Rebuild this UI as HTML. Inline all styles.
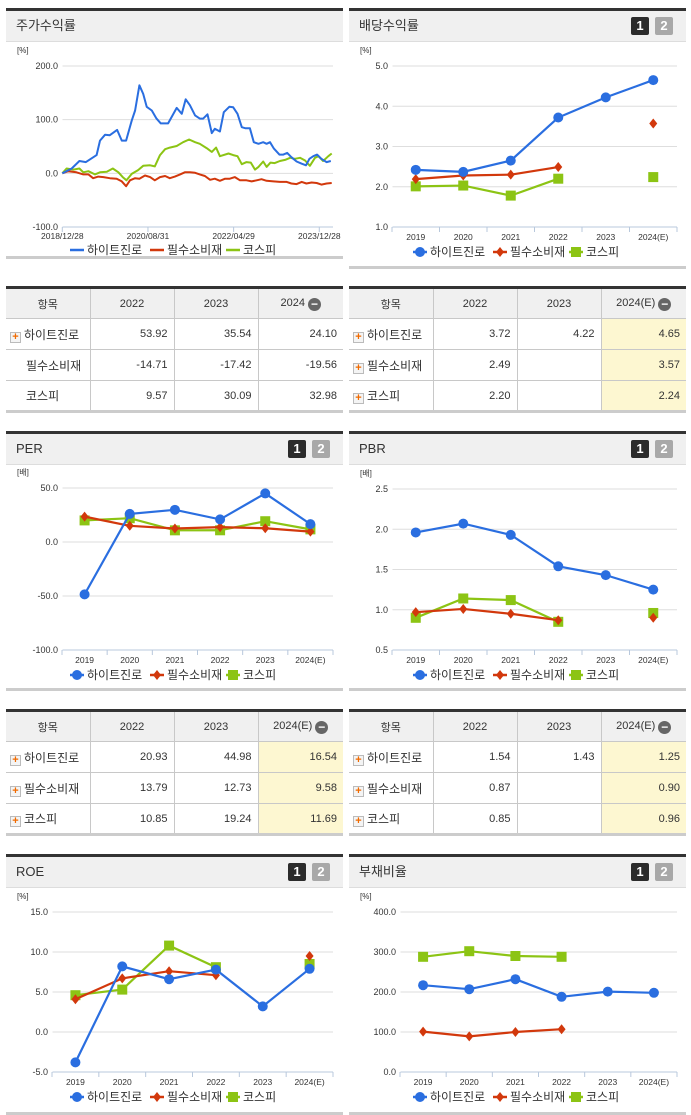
<!DOCTYPE html>
<html><head><meta charset="utf-8">
<style>
*{margin:0;padding:0;box-sizing:border-box}
body{width:691px;height:1115px;background:#fff;position:relative;overflow:hidden;font-family:"Liberation Sans","Noto Sans CJK KR",sans-serif;color:#333}
.panel{position:absolute;border-top:3px solid #333;border-bottom:3px solid #ccc}
.hdr{height:31px;background:#f0f0f0;border-bottom:1px solid #ddd;font-size:13px;line-height:30px;padding-left:10px;position:relative}
.b1,.b2{position:absolute;top:6px;width:18px;height:18px;font-size:13px;font-weight:bold;line-height:18px;text-align:center;color:#fff;border-radius:2px}
.b1{background:#2b2b2b}.b2{background:#a8a8a8}
table{position:absolute;border-collapse:collapse;border-top:3px solid #333;border-bottom:3px solid #ccc;font-size:11px;table-layout:fixed}
td,th{border:1px solid #c8c8c8;height:31px;font-weight:normal}
th{background:#f0f0f0;font-size:11px;text-align:center}
td{text-align:right;padding-right:6px}
td.l{text-align:left;padding-left:4px;font-size:12px}
tr td:first-child,tr th:first-child{border-left:none}
tr td:last-child,tr th:last-child{border-right:none}
.hl{background:#fdf7d1}
.pl{display:inline-block;width:11px;height:11px;border:1px solid #bbb;background:#f4f4f4;color:#f06a00;font-size:11px;line-height:9px;text-align:center;font-weight:bold;vertical-align:-1px;margin-right:3px}
.mi{display:inline-block;width:13px;height:13px;border-radius:50%;background:#666;color:#fff;font-size:12px;line-height:12px;text-align:center;font-weight:bold;vertical-align:-2px;margin-left:3px}
svg{position:absolute;left:0;top:0}
</style></head><body>

<div class="panel" style="left:6px;top:8px;width:337px;height:251px"><div class="hdr">주가수익률</div></div>
<div class="panel" style="left:349px;top:8px;width:337px;height:261px"><div class="hdr">배당수익률<span class="b1" style="left:282px">1</span><span class="b2" style="left:306px">2</span></div></div>
<div class="panel" style="left:6px;top:431px;width:337px;height:260px"><div class="hdr">PER<span class="b1" style="left:282px">1</span><span class="b2" style="left:306px">2</span></div></div>
<div class="panel" style="left:349px;top:431px;width:337px;height:260px"><div class="hdr">PBR<span class="b1" style="left:282px">1</span><span class="b2" style="left:306px">2</span></div></div>
<div class="panel" style="left:6px;top:854px;width:337px;height:261px"><div class="hdr">ROE<span class="b1" style="left:282px">1</span><span class="b2" style="left:306px">2</span></div></div>
<div class="panel" style="left:349px;top:854px;width:337px;height:261px"><div class="hdr">부채비율<span class="b1" style="left:282px">1</span><span class="b2" style="left:306px">2</span></div></div>

<table style="left:6px;top:286px;width:337px">
<colgroup><col style="width:84px"><col style="width:84px"><col style="width:84px"><col style="width:85px"></colgroup>
<tr><th>항목</th><th>2022</th><th>2023</th><th>2024<span class="mi">−</span></th></tr>
<tr><td class="l"><span class="pl">+</span>하이트진로</td><td>53.92</td><td>35.54</td><td>24.10</td></tr>
<tr><td class="l" style="padding-left:20px">필수소비재</td><td>-14.71</td><td>-17.42</td><td>-19.56</td></tr>
<tr><td class="l" style="padding-left:20px">코스피</td><td>9.57</td><td>30.09</td><td>32.98</td></tr>
</table>
<table style="left:349px;top:286px;width:337px">
<colgroup><col style="width:84px"><col style="width:84px"><col style="width:84px"><col style="width:85px"></colgroup>
<tr><th>항목</th><th>2022</th><th>2023</th><th>2024(E)<span class="mi">−</span></th></tr>
<tr><td class="l"><span class="pl">+</span>하이트진로</td><td>3.72</td><td>4.22</td><td class="hl">4.65</td></tr>
<tr><td class="l"><span class="pl">+</span>필수소비재</td><td>2.49</td><td></td><td class="hl">3.57</td></tr>
<tr><td class="l"><span class="pl">+</span>코스피</td><td>2.20</td><td></td><td class="hl">2.24</td></tr>
</table>
<table style="left:6px;top:709px;width:337px">
<colgroup><col style="width:84px"><col style="width:84px"><col style="width:84px"><col style="width:85px"></colgroup>
<tr><th>항목</th><th>2022</th><th>2023</th><th>2024(E)<span class="mi">−</span></th></tr>
<tr><td class="l"><span class="pl">+</span>하이트진로</td><td>20.93</td><td>44.98</td><td class="hl">16.54</td></tr>
<tr><td class="l"><span class="pl">+</span>필수소비재</td><td>13.79</td><td>12.73</td><td class="hl">9.58</td></tr>
<tr><td class="l"><span class="pl">+</span>코스피</td><td>10.85</td><td>19.24</td><td class="hl">11.69</td></tr>
</table>
<table style="left:349px;top:709px;width:337px">
<colgroup><col style="width:84px"><col style="width:84px"><col style="width:84px"><col style="width:85px"></colgroup>
<tr><th>항목</th><th>2022</th><th>2023</th><th>2024(E)<span class="mi">−</span></th></tr>
<tr><td class="l"><span class="pl">+</span>하이트진로</td><td>1.54</td><td>1.43</td><td class="hl">1.25</td></tr>
<tr><td class="l"><span class="pl">+</span>필수소비재</td><td>0.87</td><td></td><td class="hl">0.90</td></tr>
<tr><td class="l"><span class="pl">+</span>코스피</td><td>0.85</td><td></td><td class="hl">0.96</td></tr>
</table>

<svg id="charts" width="691" height="1115"></svg>

<script>
// ---- data ----
const years = ["2019","2020","2021","2022","2023","2024(E)"];
const seriesNames = ["하이트진로","필수소비재","코스피"];
const divHite = [2.42,2.37,2.65,3.72,4.22,4.65];
const divStaples = [2.19,2.28,2.30,2.49,null,3.57];
const divKospi = [2.01,2.03,1.78,2.20,null,2.24];
const perHite = [-48.5,26.0,29.8,20.93,44.98,16.54];
const perStaples = [23.5,15.0,12.5,13.79,12.73,9.58];
const perKospi = [20.0,22.0,10.8,10.85,19.24,11.69];
const pbrHite = [1.96,2.07,1.93,1.54,1.43,1.25];
const pbrStaples = [0.97,1.01,0.95,0.87,null,0.90];
const pbrKospi = [0.90,1.14,1.12,0.85,null,0.96];
const roeHite = [-3.8,8.2,6.6,7.8,3.2,7.9];
const roeStaples = [4.1,6.7,7.6,7.1,null,9.5];
const roeKospi = [4.6,5.3,10.8,8.1,null,8.5];
const debtHite = [217,207,232,188,201,198];
const debtStaples = [101,89,100,107,null,null];
const debtKospi = [288,302,290,288,null,null];
// stock return: months since 2018/12/28 and % values
const retDateLabels = ["2018/12/28","2020/08/31","2022/04/29","2023/12/28"];
const retDateMonths = [0,20,40,60];
const hiteM = [0,2.2,4.0,5.5,8.0,8.8,10.0,11.1,12.8,13.9,14.9,16.2,17.0,18.0,18.9,19.7,20.9,22.0,23.0,24.7,26.7,27.9,28.8,29.8,31.0,32.1,32.9,33.9,34.9,35.6,36.8,37.7,39.0,39.9,40.9,41.9,42.8,43.8,44.7,45.8,46.9,47.7,48.5,49.4,50.7,51.6,52.5,53.5,54.7,55.9,56.9,57.7,58.6,59.5,60.5,61.7,62.7];
const hiteV = [0,9,23,21,34,61,72,71,81,61,61,98,117,164,148,124,117,102,93,93,122,111,138,127,108,102,102,110,75,83,78,114,124,123,111,86,84,84,58,55,58,55,58,46,35,35,38,30,22,18,15,27,32,35,27,21,23];
const kospiM = [0,1.0,2.6,4.0,4.9,6.1,7.6,8.8,10.4,11.8,13.1,14.1,15.0,16.2,17.7,18.9,20.5,21.6,22.8,24.0,25.1,26.7,28.2,29.6,31.0,32.1,33.7,34.9,35.9,36.8,38.8,39.9,40.9,41.9,43.0,44.0,45.0,45.8,46.9,47.7,48.6,49.6,50.8,52.0,53.2,54.3,55.5,56.7,57.8,59.0,59.8,60.9,62.1,62.9];
const kospiV = [0,9,7,9,2,4,-2,2,3,9,2,-7,-13,-1,6,14,15,13,34,45,48,51,58,63,58,55,47,40,48,32,37,34,32,17,21,20,7,12,22,12,20,19,23,25,29,27,29,24,14,29,32,23,32,37];
const stapM = [0,1.4,3.3,4.9,6.1,7.2,8.4,9.6,11.1,12.7,13.9,14.9,15.8,17.0,18.0,19.3,20.5,21.6,22.8,24.0,25.1,26.3,27.5,28.6,29.8,31.0,32.1,33.3,34.5,35.6,36.8,38.0,39.1,40.3,41.5,43.0,44.2,45.4,46.5,47.7,49.3,50.8,52.4,53.5,54.7,55.9,57.0,58.2,59.4,60.5,61.7,62.9];
const stapV = [0,4,2,-2,-2,-9,-6,-7,-9,-10,-15,-24,-13,-9,-10,-4,-7,-13,-7,-5,-9,-6,-2,2,2,1,-2,-5,-12,-10,-14,-10,-10,-7,-13,-13,-15,-13,-11,-14,-15,-16,-16,-19,-20,-16,-19,-17,-18,-21,-19,-18];

const COL = ["#2a6ee0","#d2380c","#8cc414"];
const svg = document.getElementById('charts');
const NS = "http://www.w3.org/2000/svg";
function mk(tag, attrs, parent){const e=document.createElementNS(NS,tag);for(const k in attrs)e.setAttribute(k,attrs[k]);(parent||svg).appendChild(e);return e;}
function txt(s,x,y,size,anchor,fill,parent){const t=mk('text',{x:x,y:y,'font-size':size,'text-anchor':anchor||'start',fill:fill||'#333','font-family':'"Liberation Sans","Noto Sans CJK KR",sans-serif'},parent);t.textContent=s;return t;}

function axes(g,c){
  const ys=v=>c.yTop+(c.max-v)/(c.max-c.min)*(c.yBot-c.yTop);
  for(let v=c.max;v>=c.min-1e-9;v-=c.step){
    const y=ys(v);
    if(v>c.min+1e-9){const gl=mk('line',{x1:c.left,x2:c.right,y1:y,y2:y,stroke:'#dedede'},g);}
    const t=txt(v.toFixed(1),c.left-4,y+3,9,'end','#333',g);
    
    
  }
  mk('line',{x1:c.left,x2:c.right,y1:c.yBot,y2:c.yBot,stroke:'#b8c8dc'},g);
  mk('line',{x1:c.left,x2:c.left,y1:c.yTop-2,y2:c.yBot,stroke:'#fff'},g);
  const u=txt(c.unit,c.unitX,c.yTop-13,8,'start','#333',g);
  
  
  return ys;
}
function legend(g,cx,y,markers){
  const widths=[80,76,52];let total=widths.reduce((a,b)=>a+b,0);let x=cx-total/2;
  seriesNames.forEach((n,i)=>{
    const lg=mk('g',{},g);
    
    
    mk('line',{x1:x,x2:x+14,y1:y-4,y2:y-4,stroke:COL[i],'stroke-width':2.5},lg);
    if(markers)marker(lg,i,x+7,y-4);
    txt(n,x+17,y,12,'start','#333',lg);
    x+=widths[i];
  });
}
function marker(g,i,x,y){
  if(i===0)return mk('circle',{cx:x,cy:y,r:5,fill:COL[0]},g);
  if(i===1)return mk('path',{d:`M${x} ${y-5}L${x+4} ${y}L${x} ${y+5}L${x-4} ${y}Z`,fill:COL[1]},g);
  return mk('rect',{x:x-5,y:y-5,width:10,height:10,fill:COL[2]},g);
}
function catChart(name,c,data){
  const g=mk('g',{});
  
  
  const ys=axes(g,c);
  const bw=(c.right-c.left)/years.length;
  const xs=i=>c.left+bw*(i+0.5);
  years.forEach((yr,i)=>{
    mk('line',{x1:c.left+bw*i,x2:c.left+bw*i,y1:c.yBot,y2:c.yBot+5,stroke:'#b8c8dc'},g);
    const t=txt(yr,xs(i),c.yBot+13,8.5,'middle','#333',g);
    
    
  });
  mk('line',{x1:c.right,x2:c.right,y1:c.yBot,y2:c.yBot+5,stroke:'#b8c8dc'},g);
  [2,1,0].forEach(si=>{
    const arr=data[si];let d='';let pen=false;
    arr.forEach((v,i)=>{if(v==null){pen=false;return;}d+=(pen?'L':'M')+xs(i)+' '+ys(v);pen=true;});
    const p=mk('path',{d:d,fill:'none',stroke:COL[si],'stroke-width':2.2},g);
    
    
    arr.forEach((v,i)=>{if(v==null)return;const m=marker(g,si,xs(i),ys(v));
      
      });
  });
  legend(g,c.cx,c.yBot+29,true);
}

// stock return chart
(function(){
  const c={left:62,right:333,yTop:66,yBot:227,max:200,min:-100,step:100,unit:'[%]',unitX:17};
  const g=mk('g',{});
  
  
  const ys=axes(g,c);
  const xm=m=>62.3+m*4.283;
  retDateMonths.forEach((m,i)=>{
    mk('line',{x1:xm(m),x2:xm(m),y1:c.yBot,y2:c.yBot+5,stroke:'#b8c8dc'},g);
    const t=txt(retDateLabels[i],xm(m),c.yBot+12,8.5,'middle','#333',g);
    
    
  });
  [[stapM,stapV,1],[kospiM,kospiV,2],[hiteM,hiteV,0]].forEach(([M,V,si])=>{
    const d=M.map((m,i)=>(i?'L':'M')+xm(m).toFixed(1)+' '+ys(V[i]).toFixed(1)).join('');
    const p=mk('path',{d:d,fill:'none',stroke:COL[si],'stroke-width':2,'stroke-linejoin':'round'},g);
    
    
  });
  legend(g,174,254,false);
})();

catChart('dividend-chart',{left:392,right:677,yTop:66,yBot:227,max:5,min:1,step:1,unit:'[%]',unitX:360,cx:517},[divHite,divStaples,divKospi]);
catChart('per-chart',{left:62,right:333,yTop:488,yBot:650,max:50,min:-100,step:50,unit:'[배]',unitX:17,cx:174},[perHite,perStaples,perKospi]);
catChart('pbr-chart',{left:392,right:677,yTop:489,yBot:650,max:2.5,min:0.5,step:0.5,unit:'[배]',unitX:360,cx:517},[pbrHite,pbrStaples,pbrKospi]);
catChart('roe-chart',{left:52,right:333,yTop:912,yBot:1072,max:15,min:-5,step:5,unit:'[%]',unitX:17,cx:174},[roeHite,roeStaples,roeKospi]);
catChart('debt-chart',{left:400,right:677,yTop:912,yBot:1072,max:400,min:0,step:100,unit:'[%]',unitX:360,cx:517},[debtHite,debtStaples,debtKospi]);
</script>
</body></html>
